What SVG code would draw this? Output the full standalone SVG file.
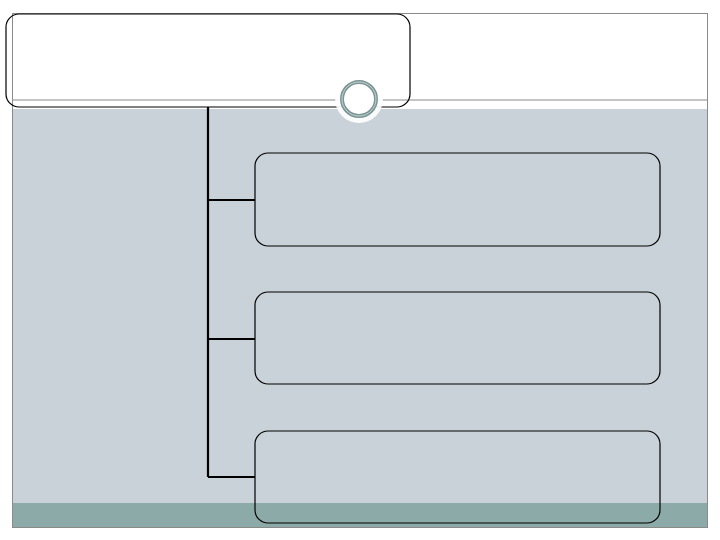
<svg xmlns="http://www.w3.org/2000/svg" width="720" height="540" viewBox="0 0 720 540">
<style>
.box{fill:none;stroke:#000;stroke-width:1.2}
.conn{stroke:#000;stroke-width:2.2;fill:none}
</style>
<rect x="0" y="0" width="720" height="540" fill="#fff"/>
<g id="background">
<rect x="12" y="109" width="695" height="394" fill="#c8d2d8"/>
<rect x="12" y="503" width="695" height="24" fill="#8caba8"/>
<rect x="12.5" y="13.5" width="695" height="514" fill="none" stroke="#8a8a8a" stroke-width="1"/>
<line x1="12" y1="100" x2="707" y2="100" stroke="#8a8a8a" stroke-width="1"/>
</g>
<g id="connectors">
<path class="conn" d="M208 107 V477 M208 200 H255 M208 339 H255 M208 477 H255"/>
</g>
<g id="root">
<rect class="box" x="6" y="14" width="404" height="93" rx="13" fill="#fff"/>
</g>
<g id="ornament">
<circle cx="359" cy="99" r="24" fill="#fff" opacity="0.9"/>
<circle cx="359" cy="99" r="17" fill="#fff" stroke="#7b9595" stroke-width="4"/>
<circle cx="359" cy="99" r="17" fill="none" stroke="#c8d4d4" stroke-width="1"/>
</g>
<g id="child1">
<rect class="box" x="255" y="153" width="405" height="93" rx="13"/>
</g>
<g id="child2">
<rect class="box" x="255" y="292" width="405" height="92" rx="13"/>
</g>
<g id="child3">
<rect class="box" x="255" y="431" width="405" height="92" rx="13"/>
</g>
</svg>
